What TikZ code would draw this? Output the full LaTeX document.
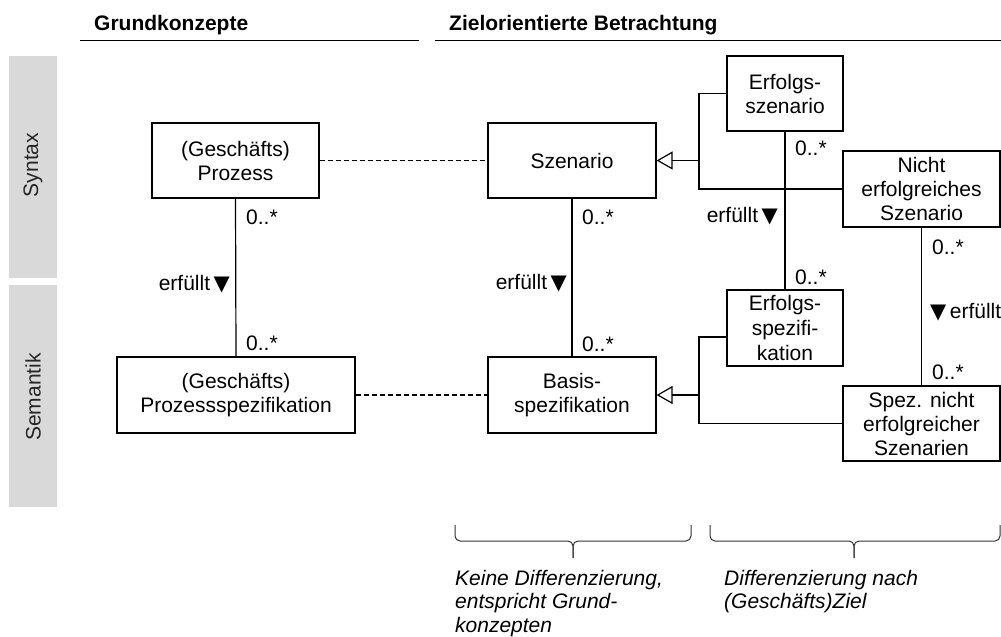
\documentclass[tikz,border=0pt]{standalone}
\usepackage{fontspec}
\setmainfont{Liberation Sans}
\newfontfamily\symfont{DejaVu Sans}
\usetikzlibrary{arrows.meta,calc}
\newcommand{\dirtri}{{\symfont ▼}}

\begin{document}
\begin{tikzpicture}[x=1pt,y=-1pt,
  every node/.style={font=\fontsize{21}{24}\selectfont},
  box/.style={draw,line width=1.2pt,align=center,inner sep=0pt},
  link/.style={line width=1.2pt},
  trace/.style={line width=1.2pt,dash pattern=on 5pt off 3pt},
  gen/.style={line width=1.2pt,-{Triangle[open,length=16pt,width=18pt,line width=1.2pt]}},
  mult/.style={anchor=west,inner sep=0pt},
  role/.style={anchor=east,inner sep=0pt},
  headline/.style={font=\fontsize{21}{24}\selectfont\bfseries,anchor=base west,inner sep=0pt},
  band/.style={fill=gray!30,draw=none},
  bandlabel/.style={rotate=90,inner sep=0pt,text=black!85},
  bracket/.style={line width=1pt,rounded corners=5pt,draw=black!80},
  note/.style={font=\fontsize{21}{23.5}\selectfont\itshape,align=left,anchor=north west,inner sep=0pt}
]
\useasboundingbox (0,0) rectangle (1001,637);

% column headings
\node[headline] (h1) at (94,30) {Grundkonzepte};
\node[headline] (h2) at (449,30) {Zielorientierte Betrachtung};
\draw[line width=1.2pt] (80,40.5) -- (419,40.5);
\draw[line width=1.2pt] (435,40.5) -- (1001,40.5);

% row bands
\fill[band] (9,56) rectangle (57,278);
\fill[band] (9,285) rectangle (57,507);
\node[bandlabel] (syn) at (33,165) {Syntax};
\node[bandlabel] (sem) at (33,397) {Semantik};

% classes
\node[box,minimum width=167pt,minimum height=75pt] (proz) at (235.5,160.5) {(Geschäfts)\\Prozess};
\node[box,minimum width=238pt,minimum height=76pt] (prozspez) at (236,395) {(Geschäfts)\\Prozessspezifikation};
\node[box,minimum width=168pt,minimum height=75pt] (szen) at (572,160.5) {Szenario};
\node[box,minimum width=168pt,minimum height=76pt] (basis) at (572,395) {Basis-\\spezifikation};
\node[box,minimum width=116pt,minimum height=75pt] (erfszen) at (785,93.5) {Erfolgs-\\szenario};
\node[box,minimum width=157pt,minimum height=76pt] (nerfszen) at (921.5,189) {Nicht\\erfolgreiches\\Szenario};
\node[box,minimum width=116pt,minimum height=76pt,font=\fontsize{21}{25}\selectfont] (erfspez) at (785,328) {Erfolgs-\\spezifi-\\kation};
\node[box,minimum width=157pt,minimum height=75pt] (nerfspez) at (921.5,423.5) {Spez. nicht\\erfolgreicher\\Szenarien};

% correspondences between the columns
\draw[trace] (proz.east) -- (szen.west);
\draw[trace] (prozspez.east) -- (basis.west);

% generalisations
\coordinate (g1) at (699,160.5);
\draw[link] (erfszen.west) -| (g1) |- (nerfszen.west);
\draw[gen] (g1) -- (szen.east);
\coordinate (g2) at (699,395);
\coordinate (e2) at ($(erfspez.west)+(0,9)$);
\draw[link] (e2) -| (g2) |- (nerfspez.west);
\draw[gen] (g2) -- (basis.east);

% "erfuellt" associations
\draw[link] (proz.south) -- (prozspez.north);
\node[mult] (m1a) at (246,217) {0..*};
\node[mult] (m1b) at (246,343) {0..*};
\node[role] (r1) at (230,284) {erfüllt\,\dirtri};

\draw[link] (szen.south) -- (basis.north);
\node[mult] (m2a) at (582,217) {0..*};
\node[mult] (m2b) at (582,344) {0..*};
\node[role] (r2) at (567,283) {erfüllt\,\dirtri};

\draw[link] (erfszen.south) -- (erfspez.north);
\node[mult] (m3a) at (795,148) {0..*};
\node[mult] (m3b) at (795,277) {0..*};
\node[role] (r3) at (778,216) {erfüllt\,\dirtri};

\draw[link] (nerfszen.south) -- (nerfspez.north);
\node[mult] (m4a) at (932,247) {0..*};
\node[mult] (m4b) at (932,372) {0..*};
\node[anchor=west,inner sep=0pt] (r4) at (930,312) {\dirtri\,erfüllt};

% braces with comments
\draw[bracket] (455,525) |- (573,541) -- (573,558);
\draw[bracket] (691,525) |- (573,541) -- (573,558);
\draw[bracket] (710,525) |- (854,541) -- (854,558);
\draw[bracket] (1000,525) |- (854,541) -- (854,558);
\node[note] (n1) at (455,570) {Keine Differenzierung,\\entspricht Grund-\\konzepten};
\node[note] (n2) at (724,570) {Differenzierung nach\\(Geschäfts)Ziel};
\end{tikzpicture}
\end{document}
